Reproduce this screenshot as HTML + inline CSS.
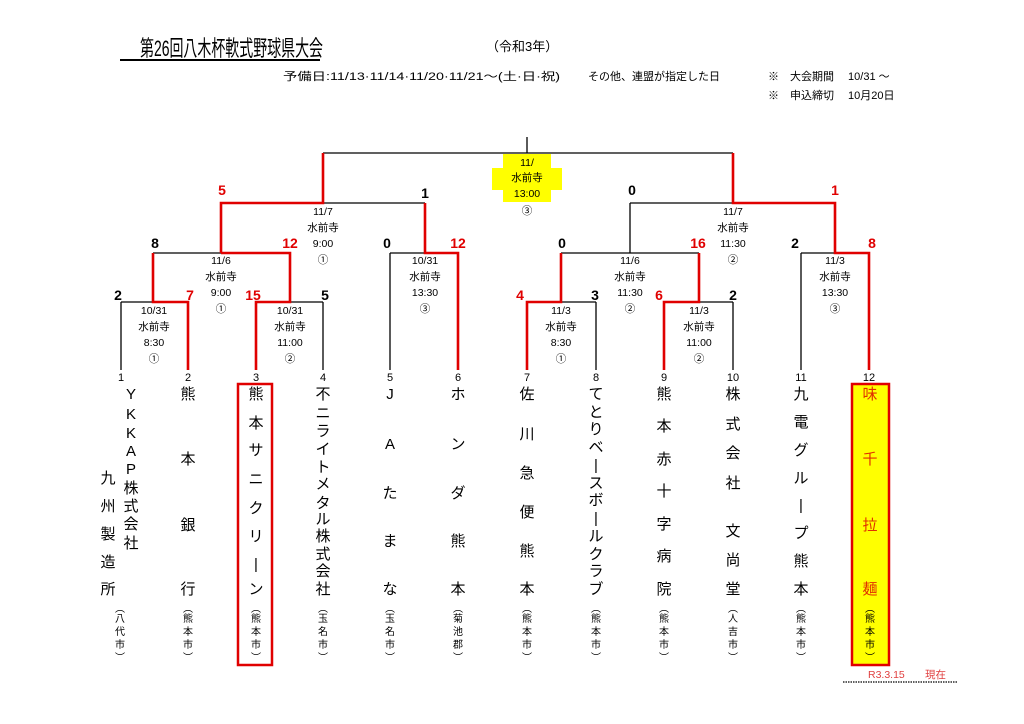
<!DOCTYPE html>
<html><head><meta charset="utf-8"><style>
html,body{margin:0;padding:0;background:#fff}
svg{display:block}
text{font-family:"Liberation Sans","Noto Sans CJK JP",sans-serif}
.t{font-size:15px;text-anchor:middle}
.p{font-size:10px;text-anchor:middle}
.m{font-size:10.5px;text-anchor:middle}
.s{font-size:14px;font-weight:bold;text-anchor:middle}
.n{font-size:11px;text-anchor:middle}
</style></head><body>
<svg width="1024" height="724" viewBox="0 0 1024 724" xmlns="http://www.w3.org/2000/svg">
<rect width="1024" height="724" fill="#fff"/>
<!-- header -->
<text x="140" y="56" font-size="22" textLength="183" lengthAdjust="spacingAndGlyphs">第26回八木杯軟式野球県大会</text>
<line x1="120" y1="60" x2="320" y2="60" stroke="#000" stroke-width="2"/>
<text x="486" y="51" font-size="13">（令和3年）</text>
<text x="283" y="80" font-size="11" textLength="277" lengthAdjust="spacingAndGlyphs">予備日:11/13·11/14·11/20·11/21～(土·日·祝)</text>
<text x="588" y="80" font-size="11">その他、連盟が指定した日</text>
<text x="768" y="80" font-size="11">※　大会期間　 10/31 ～</text>
<text x="768" y="99" font-size="11">※　申込締切　 10月20日</text>

<!-- final yellow -->
<rect x="503" y="154" width="48" height="48" fill="#ffff00"/>
<rect x="492" y="168" width="70" height="22" fill="#ffff00"/>

<g stroke="#000" stroke-width="1.3" fill="none">
<line x1="527" y1="137" x2="527" y2="153"/>
<line x1="323" y1="153" x2="733" y2="153"/>
<line x1="221" y1="203" x2="425" y2="203"/>
<line x1="630" y1="203" x2="835" y2="203"/>
<line x1="630" y1="203" x2="630" y2="253"/>
<line x1="153" y1="253" x2="290" y2="253"/>
<line x1="390" y1="253" x2="458" y2="253"/>
<line x1="561" y1="253" x2="699" y2="253"/>
<line x1="801" y1="253" x2="869" y2="253"/>
<line x1="390" y1="253" x2="390" y2="370"/>
<line x1="801" y1="253" x2="801" y2="370"/>
<line x1="121" y1="302" x2="188" y2="302"/>
<line x1="256" y1="302" x2="323" y2="302"/>
<line x1="527" y1="302" x2="596" y2="302"/>
<line x1="664" y1="302" x2="733" y2="302"/>
<line x1="121" y1="302" x2="121" y2="370"/>
<line x1="323" y1="302" x2="323" y2="370"/>
<line x1="596" y1="302" x2="596" y2="370"/>
<line x1="733" y1="302" x2="733" y2="370"/>
</g>
<g stroke="#e00000" stroke-width="2.6" fill="none">
<polyline points="323,153 323,203 221,203 221,253"/>
<polyline points="425,203 425,253 458,253 458,370"/>
<polyline points="733,153 733,203 835,203 835,253 869,253 869,370"/>
<polyline points="221,253 290,253 290,302 256,302 256,370"/>
<polyline points="153,253 153,302 188,302 188,370"/>
<polyline points="561,253 561,302 527,302 527,370"/>
<polyline points="699,253 699,302 664,302 664,370"/>
</g>

<!-- scores -->
<g class="s">
<text x="222" y="195" fill="#e00000" class="s">5</text>
<text x="425" y="198" class="s">1</text>
<text x="632" y="195" class="s">0</text>
<text x="835" y="195" fill="#e00000" class="s">1</text>
<text x="155" y="248" class="s">8</text>
<text x="290" y="248" fill="#e00000" class="s">12</text>
<text x="387" y="248" class="s">0</text>
<text x="458" y="248" fill="#e00000" class="s">12</text>
<text x="562" y="248" class="s">0</text>
<text x="698" y="248" fill="#e00000" class="s">16</text>
<text x="795" y="248" class="s">2</text>
<text x="872" y="248" fill="#e00000" class="s">8</text>
<text x="118" y="300" class="s">2</text>
<text x="190" y="300" fill="#e00000" class="s">7</text>
<text x="253" y="300" fill="#e00000" class="s">15</text>
<text x="325" y="300" class="s">5</text>
<text x="520" y="300" fill="#e00000" class="s">4</text>
<text x="595" y="300" class="s">3</text>
<text x="659" y="300" fill="#e00000" class="s">6</text>
<text x="733" y="300" class="s">2</text>
</g>

<!-- match labels -->
<g class="m">
<text x="527" y="166" class="m">11/</text><text x="527" y="181" class="m">水前寺</text><text x="527" y="197" class="m">13:00</text><text x="527" y="214" class="m">③</text>
<text x="323" y="215" class="m">11/7</text><text x="323" y="231" class="m">水前寺</text><text x="323" y="247" class="m">9:00</text><text x="323" y="263" class="m">①</text>
<text x="733" y="215" class="m">11/7</text><text x="733" y="231" class="m">水前寺</text><text x="733" y="247" class="m">11:30</text><text x="733" y="263" class="m">②</text>
<text x="221" y="264" class="m">11/6</text><text x="221" y="280" class="m">水前寺</text><text x="221" y="296" class="m">9:00</text><text x="221" y="312" class="m">①</text>
<text x="425" y="264" class="m">10/31</text><text x="425" y="280" class="m">水前寺</text><text x="425" y="296" class="m">13:30</text><text x="425" y="312" class="m">③</text>
<text x="630" y="264" class="m">11/6</text><text x="630" y="280" class="m">水前寺</text><text x="630" y="296" class="m">11:30</text><text x="630" y="312" class="m">②</text>
<text x="835" y="264" class="m">11/3</text><text x="835" y="280" class="m">水前寺</text><text x="835" y="296" class="m">13:30</text><text x="835" y="312" class="m">③</text>
<text x="154" y="314" class="m">10/31</text><text x="154" y="330" class="m">水前寺</text><text x="154" y="346" class="m">8:30</text><text x="154" y="362" class="m">①</text>
<text x="290" y="314" class="m">10/31</text><text x="290" y="330" class="m">水前寺</text><text x="290" y="346" class="m">11:00</text><text x="290" y="362" class="m">②</text>
<text x="561" y="314" class="m">11/3</text><text x="561" y="330" class="m">水前寺</text><text x="561" y="346" class="m">8:30</text><text x="561" y="362" class="m">①</text>
<text x="699" y="314" class="m">11/3</text><text x="699" y="330" class="m">水前寺</text><text x="699" y="346" class="m">11:00</text><text x="699" y="362" class="m">②</text>
</g>

<!-- team numbers -->
<g>
<text x="121" y="381" class="n">1</text><text x="188" y="381" class="n">2</text><text x="256" y="381" class="n">3</text><text x="323" y="381" class="n">4</text>
<text x="390" y="381" class="n">5</text><text x="458" y="381" class="n">6</text><text x="527" y="381" class="n">7</text><text x="596" y="381" class="n">8</text>
<text x="664" y="381" class="n">9</text><text x="733" y="381" class="n">10</text><text x="801" y="381" class="n">11</text><text x="869" y="381" class="n">12</text>
</g>

<!-- boxes -->
<rect x="238" y="384" width="34" height="281" fill="none" stroke="#e00000" stroke-width="2.5"/>
<rect x="852" y="384" width="37" height="281" fill="#ffff00" stroke="#e00000" stroke-width="2.5"/>

<!-- team names -->
<g>
<text x="131" y="399" class="t">Y</text><text x="131" y="419" class="t">K</text><text x="131" y="438" class="t">K</text><text x="131" y="456" class="t">A</text><text x="131" y="474" class="t">P</text><text x="131" y="493" class="t">株</text><text x="131" y="511" class="t">式</text><text x="131" y="529" class="t">会</text><text x="131" y="548" class="t">社</text>
<text x="108" y="483" class="t">九</text><text x="108" y="511" class="t">州</text><text x="108" y="539" class="t">製</text><text x="108" y="567" class="t">造</text><text x="108" y="594" class="t">所</text>
<text x="188" y="399" class="t">熊</text><text x="188" y="464" class="t">本</text><text x="188" y="530" class="t">銀</text><text x="188" y="594" class="t">行</text>
<text x="256" y="399" class="t">熊</text><text x="256" y="428" class="t">本</text><text x="256" y="455" class="t">サ</text><text x="256" y="484" class="t">ニ</text><text x="256" y="513" class="t">ク</text><text x="256" y="541" class="t">リ</text><text x="256" y="569" class="t">|</text><text x="256" y="594" class="t">ン</text>
<text x="323" y="399" class="t">不</text><text x="323" y="418" class="t">ニ</text><text x="323" y="436" class="t">ラ</text><text x="323" y="454" class="t">イ</text><text x="323" y="472" class="t">ト</text><text x="323" y="489" class="t">メ</text><text x="323" y="508" class="t">タ</text><text x="323" y="524" class="t">ル</text><text x="323" y="541" class="t">株</text><text x="323" y="559" class="t">式</text><text x="323" y="576" class="t">会</text><text x="323" y="594" class="t">社</text>
<text x="390" y="399" class="t">J</text><text x="390" y="449" class="t">A</text><text x="390" y="498" class="t">た</text><text x="390" y="546" class="t">ま</text><text x="390" y="594" class="t">な</text>
<text x="458" y="399" class="t">ホ</text><text x="458" y="449" class="t">ン</text><text x="458" y="498" class="t">ダ</text><text x="458" y="546" class="t">熊</text><text x="458" y="594" class="t">本</text>
<text x="527" y="399" class="t">佐</text><text x="527" y="439" class="t">川</text><text x="527" y="478" class="t">急</text><text x="527" y="517" class="t">便</text><text x="527" y="556" class="t">熊</text><text x="527" y="594" class="t">本</text>
<text x="596" y="399" class="t">て</text><text x="596" y="417" class="t">と</text><text x="596" y="434" class="t">り</text><text x="596" y="452" class="t">ベ</text><text x="596" y="470" class="t">|</text><text x="596" y="488" class="t">ス</text><text x="596" y="505" class="t">ボ</text><text x="596" y="523" class="t">|</text><text x="596" y="541" class="t">ル</text><text x="596" y="559" class="t">ク</text><text x="596" y="576" class="t">ラ</text><text x="596" y="594" class="t">ブ</text>
<text x="664" y="399" class="t">熊</text><text x="664" y="431" class="t">本</text><text x="664" y="464" class="t">赤</text><text x="664" y="496" class="t">十</text><text x="664" y="529" class="t">字</text><text x="664" y="561" class="t">病</text><text x="664" y="594" class="t">院</text>
<text x="733" y="399" class="t">株</text><text x="733" y="429" class="t">式</text><text x="733" y="458" class="t">会</text><text x="733" y="488" class="t">社</text><text x="733" y="536" class="t">文</text><text x="733" y="565" class="t">尚</text><text x="733" y="594" class="t">堂</text>
<text x="801" y="399" class="t">九</text><text x="801" y="427" class="t">電</text><text x="801" y="455" class="t">グ</text><text x="801" y="483" class="t">ル</text><text x="801" y="510" class="t">|</text><text x="801" y="538" class="t">プ</text><text x="801" y="566" class="t">熊</text><text x="801" y="594" class="t">本</text>
<g fill="#e03000">
<text x="870" y="399" class="t">味</text><text x="870" y="464" class="t">千</text><text x="870" y="530" class="t">拉</text><text x="870" y="594" class="t">麺</text>
</g>
</g>

<!-- parens -->
<g>
<text x="120" y="612" class="p">︵</text><text x="120" y="622" class="p">八</text><text x="120" y="635" class="p">代</text><text x="120" y="648" class="p">市</text><text x="120" y="661" class="p">︶</text>
<text x="188" y="612" class="p">︵</text><text x="188" y="622" class="p">熊</text><text x="188" y="635" class="p">本</text><text x="188" y="648" class="p">市</text><text x="188" y="661" class="p">︶</text>
<text x="256" y="612" class="p">︵</text><text x="256" y="622" class="p">熊</text><text x="256" y="635" class="p">本</text><text x="256" y="648" class="p">市</text><text x="256" y="661" class="p">︶</text>
<text x="323" y="612" class="p">︵</text><text x="323" y="622" class="p">玉</text><text x="323" y="635" class="p">名</text><text x="323" y="648" class="p">市</text><text x="323" y="661" class="p">︶</text>
<text x="390" y="612" class="p">︵</text><text x="390" y="622" class="p">玉</text><text x="390" y="635" class="p">名</text><text x="390" y="648" class="p">市</text><text x="390" y="661" class="p">︶</text>
<text x="458" y="612" class="p">︵</text><text x="458" y="622" class="p">菊</text><text x="458" y="635" class="p">池</text><text x="458" y="648" class="p">郡</text><text x="458" y="661" class="p">︶</text>
<text x="527" y="612" class="p">︵</text><text x="527" y="622" class="p">熊</text><text x="527" y="635" class="p">本</text><text x="527" y="648" class="p">市</text><text x="527" y="661" class="p">︶</text>
<text x="596" y="612" class="p">︵</text><text x="596" y="622" class="p">熊</text><text x="596" y="635" class="p">本</text><text x="596" y="648" class="p">市</text><text x="596" y="661" class="p">︶</text>
<text x="664" y="612" class="p">︵</text><text x="664" y="622" class="p">熊</text><text x="664" y="635" class="p">本</text><text x="664" y="648" class="p">市</text><text x="664" y="661" class="p">︶</text>
<text x="733" y="612" class="p">︵</text><text x="733" y="622" class="p">人</text><text x="733" y="635" class="p">吉</text><text x="733" y="648" class="p">市</text><text x="733" y="661" class="p">︶</text>
<text x="801" y="612" class="p">︵</text><text x="801" y="622" class="p">熊</text><text x="801" y="635" class="p">本</text><text x="801" y="648" class="p">市</text><text x="801" y="661" class="p">︶</text>
<text x="870" y="612" class="p">︵</text><text x="870" y="622" class="p">熊</text><text x="870" y="635" class="p">本</text><text x="870" y="648" class="p">市</text><text x="870" y="661" class="p">︶</text>
</g>

<text x="868" y="678" font-size="10.5" fill="#e04040">R3.3.15</text>
<text x="925" y="678" font-size="10.5" fill="#e04040">現在</text>
<line x1="843" y1="682" x2="958" y2="682" stroke="#000" stroke-width="1.3" stroke-dasharray="1.5,1"/>
</svg>
</body></html>
